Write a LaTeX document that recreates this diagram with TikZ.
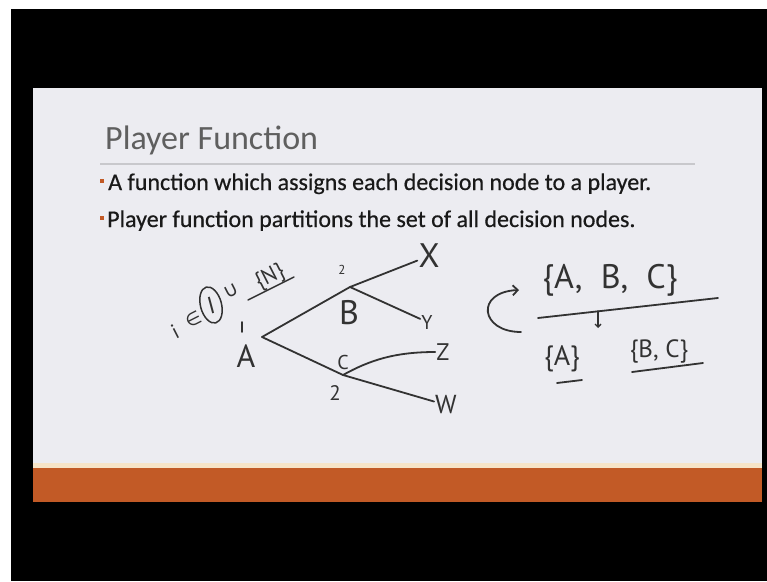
\documentclass[tikz,border=0pt]{standalone}
\usepackage{fontspec}
\setmainfont{Carlito}
\newfontfamily\bodyf[FakeBold=0.5]{Carlito}
\newfontfamily\hand{PT Sans}
\newfontfamily\symf{DejaVu Sans}
\usetikzlibrary{shapes.geometric,arrows.meta}
\definecolor{slidebg}{RGB}{236,236,241}
\definecolor{barorange}{RGB}{194,90,38}
\definecolor{cream}{RGB}{246,228,200}
\definecolor{ink}{RGB}{50,50,50}
\definecolor{titlegray}{RGB}{95,95,95}
\definecolor{textdark}{RGB}{25,25,25}
\definecolor{rulegray}{RGB}{200,200,204}
\begin{document}
\begin{tikzpicture}[x=1pt,y=-1pt,
  hw/.style={text=ink, inner sep=1pt},
  stroke/.style={draw=ink, line width=1.8pt, line cap=round, line join=round},
  bodytext/.style={anchor=base west, inner sep=0pt, text=textdark, font=\bodyf\fontsize{24}{28}\selectfont},
  bulletsq/.style={fill=barorange, minimum size=4pt, inner sep=0pt}]
\useasboundingbox (0,0) rectangle (767,581);
\fill[white] (0,0) rectangle (767,581);
\fill[black] (11,9) rectangle (767,581);
\fill[slidebg] (33,88) rectangle (762,502);
\fill[cream] (33,463) rectangle (762,468);
\fill[barorange] (33,468) rectangle (762,502);
% title and text
\node[anchor=base west, inner sep=0pt, text=titlegray, font=\fontsize{34}{40}\selectfont] (title) at (105,149) {Player Function};
\coordinate (rule1) at (100,164);
\coordinate (rule2) at (695,164);
\draw[rulegray, line width=2pt] (rule1) -- (rule2);
\node[bulletsq] (b1) at (102,181) {};
\node[bulletsq] (b2) at (102,218) {};
\node[bodytext] (l1) at (108,190) {A function which assigns each decision node to a player.};
\node[bodytext] (l2) at (107,227) {Player function partitions the set of all decision nodes.};
% tree
\coordinate (rootA) at (262,337);
\coordinate (forkB) at (350,287);
\coordinate (forkC) at (343,375);
\node[hw, font=\hand\fontsize{34}{34}\selectfont] (X) at (429,256) {X};
\node[hw, font=\hand\fontsize{20}{20}\selectfont] (Y) at (427,322) {Y};
\node[hw, font=\hand\fontsize{24}{24}\selectfont] (Z) at (443,352) {Z};
\node[hw, font=\hand\fontsize{26}{26}\selectfont] (W) at (446,405) {W};
\draw[stroke] (rootA) -- (forkB) -- (X);
\draw[stroke] (forkB) -- (Y);
\draw[stroke] (rootA) -- (forkC) -- (W);
\draw[stroke] (forkC) .. controls (370,360) and (395,352) .. (Z);
\node[hw, font=\hand\fontsize{13}{13}\selectfont] (two1) at (342,270) {2};
\node[hw, font=\hand\fontsize{34}{34}\selectfont] (labB) at (349,313) {B};
\node[hw, font=\hand\fontsize{20}{20}\selectfont] (labC) at (343,362) {C};
\node[hw, font=\hand\fontsize{21}{21}\selectfont] (two2) at (335,393) {2};
\node[hw, font=\hand\fontsize{32}{32}\selectfont] (labA) at (246,356) {A};
\coordinate (tickT) at (242,322);
\coordinate (tickB) at (242,332);
\draw[stroke] (tickT) -- (tickB);
% player set expression
\node[hw, rotate=27, inner sep=0pt, font=\hand\fontsize{21}{21}\selectfont] (iv) at (175,332) {i};
\node[hw, rotate=27, inner sep=0pt, font=\symf\fontsize{18}{18}\selectfont] (inn) at (194,319) {∈};
\node[hw, rotate=15, font=\hand\fontsize{24}{24}\selectfont, draw=ink, line width=1.5pt, ellipse, minimum width=21pt, minimum height=37pt, inner sep=0pt] (bigI) at (211,305) {I};
\node[hw, rotate=27, inner sep=0pt, font=\symf\fontsize{20}{20}\selectfont] (cupp) at (231,291) {∪};
\node[hw, rotate=27, inner sep=0pt, font=\hand\fontsize{22}{22}\selectfont] (setN) at (270,277) {\{N\}};
\coordinate (ulN1) at (248,300);
\coordinate (ulN2) at (294,277);
\draw[stroke, line width=1.4pt] (ulN1) -- (ulN2);
% partition
\coordinate (caS) at (521,332);
\coordinate (caE) at (519,290);
\draw[stroke, -{Straight Barb[length=5pt]}] (caS) .. controls (480,332) and (475,292) .. (caE);
\node[hw, font=\hand\fontsize{34}{34}\selectfont] (setABC) at (610,280) {\{A,\ \ B,\ \ C\}};
\coordinate (hl1) at (538,318);
\coordinate (hl2) at (718,298);
\draw[stroke] (hl1) -- (hl2);
\coordinate (darT) at (598,311);
\coordinate (darB) at (598,328);
\draw[stroke, line width=1.3pt, -{Straight Barb[length=3pt]}] (darT) -- (darB);
\node[hw, font=\hand\fontsize{28}{28}\selectfont] (setA) at (562,359) {\{A\}};
\coordinate (ulA1) at (557,383);
\coordinate (ulA2) at (582,380);
\draw[stroke] (ulA1) -- (ulA2);
\node[hw, font=\hand\fontsize{25}{25}\selectfont] (setBC) at (659,351) {\{B,\ C\}};
\coordinate (ulBC1) at (632,372);
\coordinate (ulBC2) at (703,363);
\draw[stroke] (ulBC1) -- (ulBC2);
\end{tikzpicture}
\end{document}
